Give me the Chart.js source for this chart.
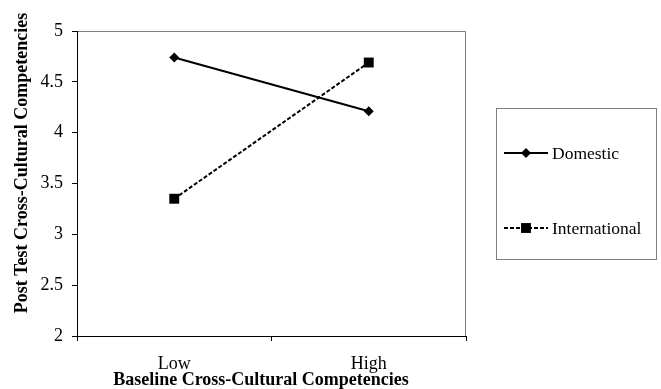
<!DOCTYPE html>
<html>
<head>
<meta charset="utf-8">
<script src="https://cdn.jsdelivr.net/npm/chart.js@4/dist/chart.umd.min.js"></script>
<style>
body{margin:0;background:#fff;}
canvas{display:block;}
</style>
</head>
<body>
<canvas id="chart" width="661" height="389"></canvas>
<script>
// values
const categories = ['Low', 'High'];
const domestic = [4.74, 4.21];
const international = [3.35, 4.69];
const seriesNames = ['Domestic', 'International'];
const xTitle = 'Baseline Cross-Cultural Competencies';
const yTitle = 'Post Test Cross-Cultural Competencies';

const serif = "'Liberation Serif', 'Times New Roman', serif";

// titles, plot frame and boxed legend
const extras = {
  id: 'extras',
  beforeDraw(chart){
    const {ctx, chartArea:a} = chart;
    ctx.save();
    ctx.strokeStyle = '#808080';
    ctx.lineWidth = 1;
    ctx.beginPath();
    ctx.moveTo(a.left, a.top + 0.5);
    ctx.lineTo(a.right - 0.5, a.top + 0.5);
    ctx.lineTo(a.right - 0.5, a.bottom);
    ctx.stroke();
    ctx.restore();
  },
  afterDraw(chart){
    const ctx = chart.ctx;
    ctx.save();
    ctx.fillStyle = '#000';
    ctx.font = 'bold 18px ' + serif;
    ctx.textAlign = 'center';
    ctx.textBaseline = 'alphabetic';
    ctx.fillText(xTitle, 261, 385);

    ctx.save();
    ctx.translate(27, 163);
    ctx.rotate(-Math.PI / 2);
    ctx.fillText(yTitle, 0, 0);
    ctx.restore();

    // legend box
    ctx.strokeStyle = '#808080';
    ctx.lineWidth = 1;
    ctx.strokeRect(496.5, 108.5, 160, 151);

    const rows = [153, 228];
    chart.data.datasets.forEach((ds, i) => {
      const y = rows[i];
      ctx.strokeStyle = ds.borderColor;
      ctx.lineWidth = ds.borderWidth;
      ctx.setLineDash(ds.borderDash || []);
      ctx.beginPath();
      ctx.moveTo(504, y);
      ctx.lineTo(548, y);
      ctx.stroke();
      ctx.setLineDash([]);
      ctx.fillStyle = ds.pointBackgroundColor;
      const r = ds.pointRadius;
      ctx.beginPath();
      if (ds.pointStyle === 'rectRot') {
        ctx.moveTo(526, y - r);
        ctx.lineTo(526 + r, y);
        ctx.lineTo(526, y + r);
        ctx.lineTo(526 - r, y);
        ctx.closePath();
      } else {
        const s = r * Math.SQRT1_2;
        ctx.rect(526 - s, y - s, 2 * s, 2 * s);
      }
      ctx.fill();
      ctx.fillStyle = '#000';
      ctx.font = '17.5px ' + serif;
      ctx.textAlign = 'left';
      ctx.textBaseline = 'middle';
      ctx.fillText(ds.label, 552, y + 1);
    });
    ctx.restore();
  }
};

new Chart(document.getElementById('chart'), {
  type: 'line',
  data: {
    labels: categories,
    datasets: [{
      label: seriesNames[0],
      data: domestic,
      borderColor: '#000',
      borderWidth: 2,
      pointStyle: 'rectRot',
      pointRadius: 5,
      pointBackgroundColor: '#000',
      pointBorderWidth: 0,
      tension: 0
    }, {
      label: seriesNames[1],
      data: international,
      borderColor: '#000',
      borderWidth: 2,
      borderDash: [4, 2],
      pointStyle: 'rect',
      pointRadius: 7,
      pointBackgroundColor: '#000',
      pointBorderWidth: 0,
      tension: 0
    }]
  },
  options: {
    responsive: false,
    animation: false,
    layout: {padding: {left: 0, right: 195, top: 31, bottom: 0}},
    plugins: {legend: {display: false}, tooltip: {enabled: false}},
    scales: {
      x: {
        type: 'category',
        offset: true,
        afterFit(scale){ scale.height = 53; },
        grid: {drawOnChartArea: false, tickLength: 5, color: '#000', offset: true},
        border: {color: '#000', width: 1},
        ticks: {color: '#000', font: {family: serif, size: 18}, padding: 12, maxRotation: 0}
      },
      y: {
        min: 2,
        max: 5,
        afterFit(scale){ scale.width = 77; },
        grid: {drawOnChartArea: false, tickLength: 5, color: '#000'},
        border: {color: '#000', width: 1},
        ticks: {
          stepSize: 0.5,
          color: '#000',
          font: {family: serif, size: 18},
          padding: 9,
          callback: v => String(v)
        }
      }
    }
  },
  plugins: [extras]
});
</script>
</body>
</html>
